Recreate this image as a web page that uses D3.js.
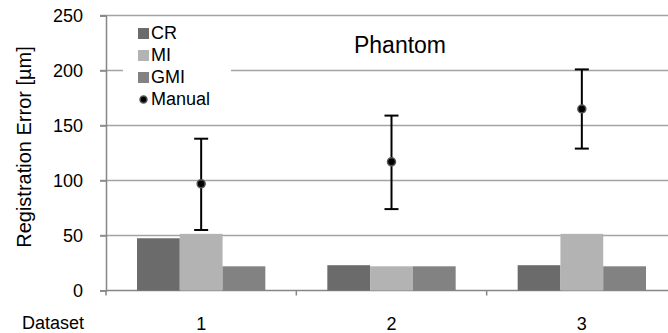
<!DOCTYPE html>
<html>
<head>
<meta charset="utf-8">
<script src="https://cdn.jsdelivr.net/npm/d3@7/dist/d3.min.js"></script>
<style>
  body { margin: 0; background: #fff; }
  svg { display: block; font-family: "Liberation Sans", Arial, sans-serif; }
</style>
</head>
<body>
<div id="chart"></div>
<script>
// data
const datasets = ['1', '2', '3'];
const seriesNames = ['CR', 'MI', 'GMI'];
const crValues = [47.5, 23, 23];
const miValues = [51.5, 22, 51.5];
const gmiValues = [22, 22, 22];
const manualMean = [97, 117, 165];
const manualLow = [55, 74, 129];
const manualHigh = [138, 159, 201];
const yTicks = [0, 50, 100, 150, 200, 250];

const seriesColors = { CR: '#6b6b6b', MI: '#b3b3b3', GMI: '#828282' };
const seriesValues = { CR: crValues, MI: miValues, GMI: gmiValues };

const width = 668, height = 333;
const svg = d3.select('#chart').append('svg')
  .attr('width', width)
  .attr('height', height);

// scales (plot runs off the right edge, as in the reference)
const x = d3.scaleBand().domain(datasets).range([106, 677]);
const xInner = d3.scaleBand().domain(seriesNames).range([31, x.bandwidth() - 31]);
const y = d3.scaleLinear().domain([0, 250]).range([290.5, 15.5]);

// grid lines
svg.append('g').selectAll('line')
  .data(yTicks.filter(d => d > 0))
  .enter().append('line')
  .attr('x1', 100).attr('x2', width)
  .attr('y1', d => y(d)).attr('y2', d => y(d))
  .style('stroke', '#a3a3a3')
  .style('stroke-width', 1.5);

// y axis
const yAxis = svg.append('g')
  .attr('transform', 'translate(106,0)')
  .call(d3.axisLeft(y).tickValues(yTicks).tickSize(6).tickPadding(17));
yAxis.select('.domain').style('stroke', '#868686').style('stroke-width', 1.5);
yAxis.selectAll('.tick line').style('stroke', '#868686').style('stroke-width', 1.5);
yAxis.selectAll('text')
  .style('font-size', '18px')
  .style('fill', '#000')
  .style('font-family', '"Liberation Sans", Arial, sans-serif');

// x axis: ticks between categories
const xAxis = svg.append('g')
  .attr('transform', `translate(0,${y(0)})`);
xAxis.append('line')
  .attr('x1', 106).attr('x2', width)
  .style('stroke', '#868686').style('stroke-width', 1.5);
xAxis.selectAll('.xtick')
  .data(datasets)
  .enter().append('line')
  .attr('class', 'xtick')
  .attr('x1', d => x(d)).attr('x2', d => x(d))
  .attr('y1', 0).attr('y2', 5)
  .style('stroke', '#868686').style('stroke-width', 1.5);
xAxis.selectAll('.xlabel')
  .data(datasets)
  .enter().append('text')
  .attr('class', 'xlabel')
  .attr('x', d => x(d) + x.bandwidth() / 2)
  .attr('y', 39)
  .attr('text-anchor', 'middle')
  .style('font-size', '18px')
  .text(d => d);

// bars
const groups = svg.append('g').selectAll('g')
  .data(datasets)
  .enter().append('g')
  .attr('transform', d => `translate(${x(d)},0)`);

groups.selectAll('rect')
  .data((d, i) => seriesNames.map(s => ({ s, v: seriesValues[s][i] })))
  .enter().append('rect')
  .attr('x', d => xInner(d.s))
  .attr('width', xInner.bandwidth())
  .attr('y', d => y(d.v))
  .attr('height', d => y(0) - y(d.v))
  .style('fill', d => seriesColors[d.s]);

// manual error bars
const manual = svg.append('g').selectAll('g')
  .data(datasets)
  .enter().append('g')
  .attr('transform', d => `translate(${x(d) + x.bandwidth() / 2},0)`);

manual.append('line')
  .attr('y1', (d, i) => y(manualLow[i]))
  .attr('y2', (d, i) => y(manualHigh[i]))
  .style('stroke', '#000').style('stroke-width', 2);
manual.append('line')
  .attr('x1', -7).attr('x2', 7)
  .attr('y1', (d, i) => y(manualLow[i])).attr('y2', (d, i) => y(manualLow[i]))
  .style('stroke', '#000').style('stroke-width', 2);
manual.append('line')
  .attr('x1', -7).attr('x2', 7)
  .attr('y1', (d, i) => y(manualHigh[i])).attr('y2', (d, i) => y(manualHigh[i]))
  .style('stroke', '#000').style('stroke-width', 2);
manual.append('circle')
  .attr('cy', (d, i) => y(manualMean[i]))
  .attr('r', 4)
  .style('fill', '#000')
  .style('stroke', '#555')
  .style('stroke-width', 1.5);

// legend
const legend = svg.append('g').attr('class', 'legend');
legend.append('rect')
  .attr('x', 123).attr('y', 21)
  .attr('width', 108).attr('height', 90)
  .style('fill', '#fff');

const legendItems = legend.selectAll('.legend-item')
  .data(seriesNames.concat(['Manual']))
  .enter().append('g')
  .attr('class', 'legend-item')
  .attr('transform', (d, i) => `translate(138, ${33 + i * 22})`);

legendItems.filter(d => d !== 'Manual').append('rect')
  .attr('x', 0).attr('y', -5)
  .attr('width', 11).attr('height', 11)
  .style('fill', d => seriesColors[d]);

legendItems.filter(d => d === 'Manual').append('circle')
  .attr('cx', 5.5).attr('cy', 0.5)
  .attr('r', 3.5)
  .style('fill', '#000')
  .style('stroke', '#555')
  .style('stroke-width', 1.5);

legendItems.append('text')
  .attr('x', 13)
  .attr('dy', '0.36em')
  .style('font-size', '18px')
  .text(d => d);

// titles
svg.append('text')
  .attr('x', 400).attr('y', 53)
  .attr('text-anchor', 'middle')
  .style('font-size', '23px')
  .text('Phantom');

svg.append('text')
  .attr('transform', 'translate(31,147) rotate(-90)')
  .attr('text-anchor', 'middle')
  .style('font-size', '20px')
  .text('Registration Error [µm]');

svg.append('text')
  .attr('x', 22).attr('y', 329)
  .style('font-size', '18px')
  .text('Dataset');
</script>
</body>
</html>
